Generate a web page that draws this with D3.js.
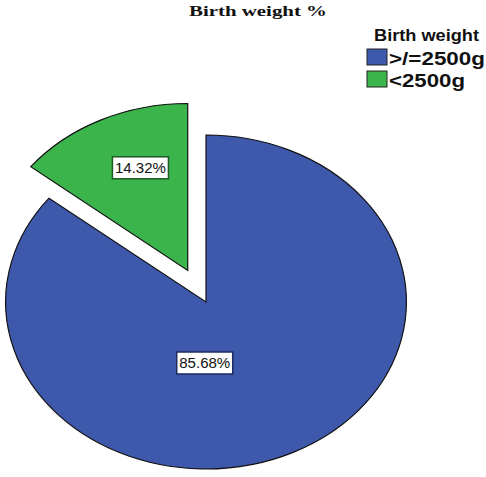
<!DOCTYPE html>
<html>
<head>
<meta charset="utf-8">
<script src="https://cdn.jsdelivr.net/npm/d3@7"></script>
<style>
  body { margin: 0; background: #fff; }
</style>
</head>
<body>
<div id="chart"></div>
<script>
// chart data
const categories = [">/=2500g", "<2500g"];
const percents = [85.68, 14.32];
const labels = ["85.68%", "14.32%"];
const legendTitle = "Birth weight";
const chartTitle = "Birth weight %";

const width = 486, height = 477;
const cx = 206, cy = 302;     // pie centre
const radius = 167;           // vertical radius
const sx = 1.2;               // horizontal stretch of the ellipse
const explode = [0, 35];      // pull-out distance per slice
const labelPlace = [[61, 181], [110, 339]]; // [radius, angle deg] per slice label

const color = d3.scaleOrdinal()
    .domain(categories)
    .range(["#3e58ac", "#3bb44b"]);
const labelStroke = ["#1c2a5e", "#1d5a25"];

const svg = d3.select("#chart")
    .append("svg")
    .attr("width", width)
    .attr("height", height)
    .style("background", "#fff");

const pie = d3.pie().sort(null).value(d => d.value);
const arcs = pie(categories.map((c, i) => ({ name: c, value: percents[i], label: labels[i] })));
const arc = d3.arc().innerRadius(0).outerRadius(radius);

// slice offset (in circle coords, before x stretch)
function offset(d, i) {
    const a = (d.startAngle + d.endAngle) / 2;
    return [explode[i] * Math.sin(a), -explode[i] * Math.cos(a)];
}

const g = svg.append("g")
    .attr("transform", `translate(${cx},${cy}) scale(${sx},1)`);

g.selectAll("path")
    .data(arcs)
    .join("path")
    .attr("transform", (d, i) => { const o = offset(d, i); return `translate(${o[0]},${o[1]})`; })
    .attr("d", arc)
    .attr("fill", d => color(d.data.name))
    .attr("stroke", "#111")
    .attr("stroke-width", 1.2)
    .attr("vector-effect", "non-scaling-stroke");

// value labels with boxes
arcs.forEach((d, i) => {
    const o = offset(d, i);
    const r = labelPlace[i][0], a = labelPlace[i][1] * Math.PI / 180;
    const x = cx + sx * (o[0] + r * Math.sin(a));
    const y = cy + o[1] - r * Math.cos(a);
    const lg = svg.append("g").attr("transform", `translate(${x},${y})`);
    lg.append("rect")
        .attr("x", -28).attr("y", -11)
        .attr("width", 56).attr("height", 22)
        .attr("fill", "#fff")
        .attr("stroke", labelStroke[i])
        .attr("stroke-width", 1.5);
    lg.append("text")
        .attr("text-anchor", "middle")
        .attr("dominant-baseline", "central")
        .style("font-family", "Liberation Sans, Arial, sans-serif")
        .style("font-size", "14px")
        .attr("fill", "#111")
        .attr("textLength", 51)
        .attr("lengthAdjust", "spacingAndGlyphs")
        .text(d.data.label);
});

// title
svg.append("text")
    .attr("x", 189)
    .attr("y", 16)
    .style("font-family", "Liberation Serif, Times New Roman, serif")
    .style("font-weight", "bold")
    .style("font-size", "15px")
    .attr("fill", "#111")
    .attr("textLength", 138)
    .attr("lengthAdjust", "spacingAndGlyphs")
    .text(chartTitle);

// legend
const legend = svg.append("g");
legend.append("text")
    .attr("x", 374)
    .attr("y", 41)
    .style("font-family", "Liberation Sans, Arial, sans-serif")
    .style("font-weight", "bold")
    .style("font-size", "16px")
    .attr("fill", "#111")
    .attr("textLength", 105)
    .attr("lengthAdjust", "spacingAndGlyphs")
    .text(legendTitle);

const items = legend.selectAll("g.item")
    .data(categories)
    .join("g")
    .attr("class", "item")
    .attr("transform", (d, i) => `translate(367,${49 + i * 22})`);

items.append("rect")
    .attr("width", 20)
    .attr("height", 16)
    .attr("fill", d => color(d))
    .attr("stroke", "#222")
    .attr("stroke-width", 1);

items.append("text")
    .attr("x", 22)
    .attr("y", 16)
    .style("font-family", "Liberation Sans, Arial, sans-serif")
    .style("font-weight", "bold")
    .style("font-size", "18px")
    .attr("fill", "#111")
    .attr("textLength", d => d.length === 8 ? 96 : 76)
    .attr("lengthAdjust", "spacingAndGlyphs")
    .text(d => d);
</script>
</body>
</html>
